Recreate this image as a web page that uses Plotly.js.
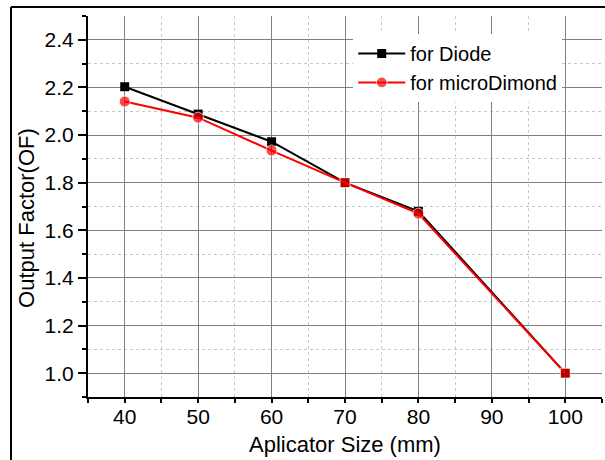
<!DOCTYPE html>
<html>
<head>
<meta charset="utf-8">
<script src="https://cdn.plot.ly/plotly-3.0.1.min.js"></script>
<style>body{margin:0;padding:0;background:#fff;} #chart{width:605px;height:460px;}</style>
</head>
<body>
<div id="chart"></div>
<script>
const sizes = [40, 50, 60, 70, 80, 100];
const diode = [2.203, 2.088, 1.972, 1.800, 1.680, 1.000];
const microDiamond = [2.141, 2.073, 1.935, 1.800, 1.670, 1.000];
const microSymbols = ['circle', 'circle', 'circle', 'square', 'circle', 'square'];
const xTicks = [40, 50, 60, 70, 80, 90, 100];
const yTicks = [1.0, 1.2, 1.4, 1.6, 1.8, 2.0, 2.2, 2.4];
const xTitle = 'Aplicator Size (mm)';
const yTitle = 'Output Factor(OF)';

const font = 'Liberation Sans, Arial, sans-serif';

const traces = [
  {
    x: sizes, y: diode, name: 'for Diode', type: 'scatter', mode: 'lines+markers',
    line: {color: '#000000', width: 2},
    marker: {symbol: 'square', size: 9, color: '#000000'}
  },
  {
    x: sizes, y: microDiamond, name: 'for microDimond', type: 'scatter', mode: 'lines+markers',
    line: {color: '#ff0000', width: 2},
    marker: {symbol: microSymbols, size: [11, 11, 11, 10, 11, 10], color: '#ff0000'}
  }
];

const layout = {
  width: 605, height: 460,
  margin: {l: 88, r: 3, t: 16, b: 63},
  paper_bgcolor: '#ffffff', plot_bgcolor: '#ffffff',
  font: {family: font, size: 21, color: '#000'},
  showlegend: true,
  legend: {
    x: 0.516, y: 0.953, xanchor: 'left', yanchor: 'top',
    bgcolor: '#ffffff', borderwidth: 0, itemwidth: 47,
    font: {family: font, size: 20, color: '#000'},
    tracegroupgap: 0
  },
  xaxis: {
    range: [35, 105], tickvals: xTicks, ticktext: xTicks.map(String),
    showline: true, linecolor: '#000', linewidth: 2, mirror: false,
    ticks: '', ticklen: 0,
    showgrid: true, gridcolor: '#808080', gridwidth: 1,
    zeroline: false,
    tickfont: {family: font, size: 21, color: '#000'},
    minor: {dtick: 5, tick0: 35, ticks: 'outside', ticklen: 4, tickwidth: 2, tickcolor: '#000',
            showgrid: true, gridcolor: '#c8c8c8', griddash: 'dot', gridwidth: 1}
  },
  xaxis2: {
    overlaying: 'x', matches: 'x', anchor: 'y', side: 'bottom',
    range: [35, 105], tickvals: xTicks, showticklabels: false,
    ticks: 'outside', ticklen: 7, tickwidth: 2, tickcolor: '#000',
    showgrid: false, zeroline: false, showline: false
  },
  yaxis: {
    range: [0.9, 2.5], tickvals: yTicks, ticktext: yTicks.map(v => v.toFixed(1)),
    showline: true, linecolor: '#000', linewidth: 2, mirror: false,
    ticks: 'outside', ticklen: 8, tickwidth: 2, tickcolor: '#000',
    showgrid: true, gridcolor: '#808080', gridwidth: 1,
    zeroline: false,
    tickfont: {family: font, size: 21, color: '#000'},
    minor: {dtick: 0.1, tick0: 0.9, ticks: 'outside', ticklen: 4, tickwidth: 2, tickcolor: '#000',
            showgrid: true, gridcolor: '#c8c8c8', griddash: 'dot', gridwidth: 1}
  },
  annotations: [
    {text: xTitle, xref: 'paper', yref: 'paper', x: 0.5, y: -0.1234, xanchor: 'center', yanchor: 'middle',
     showarrow: false, font: {family: font, size: 22, color: '#000'}},
    {text: yTitle, xref: 'paper', yref: 'paper', x: -0.1187, y: 0.47, xanchor: 'center', yanchor: 'middle',
     textangle: -90, showarrow: false, font: {family: font, size: 22, color: '#000'}}
  ],
  shapes: [
    {type: 'line', xref: 'paper', yref: 'paper', x0: -0.1498, x1: -0.1498, y0: -0.2, y1: 1.0236,
     line: {color: '#000', width: 2}},
    {type: 'line', xref: 'paper', yref: 'paper', x0: -0.1498, x1: 1.2, y0: 1.0236, y1: 1.0236,
     line: {color: '#000', width: 2}}
  ]
};

Plotly.newPlot('chart', traces, layout, {displayModeBar: false, staticPlot: true});
</script>
</body>
</html>
